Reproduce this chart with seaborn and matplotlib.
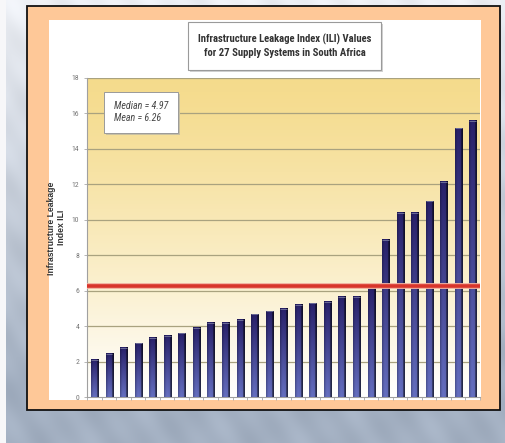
import numpy as np
import pandas as pd
import matplotlib
matplotlib.use("Agg")
import matplotlib.pyplot as plt
from matplotlib.patches import Rectangle
from matplotlib import font_manager
import seaborn as sns

# ILI values for the 27 supply systems, sorted ascending
systems = [str(i) for i in range(1, 28)]
ili = [2.11, 2.45, 2.77, 3.02, 3.34, 3.47, 3.60, 3.90, 4.18, 4.20,
       4.37, 4.66, 4.83, 4.97, 5.20, 5.30, 5.37, 5.67, 5.67, 6.22,
       8.86, 10.40, 10.40, 11.04, 12.14, 15.17, 15.59]
y_ticks = list(range(0, 19, 2))
title_text = "Infrastructure Leakage Index (ILI) Values\nfor 27 Supply Systems in South Africa"
ylabel_lines = ["Infrastructure Leakage", "Index ILI"]

df = pd.DataFrame({"system": systems, "ili": ili})
median_val = float(np.median(ili))
mean_val = float(np.mean(ili))

sns.set_theme(style="white")
plt.rcParams["font.family"] = ["Liberation Sans", "DejaVu Sans"]

# a narrow face for the title, tick labels and the statistics box
names = {f.name for f in font_manager.fontManager.ttflist}
narrow = None
for cand in ["Liberation Sans Narrow", "Roboto Condensed", "Open Sans Condensed",
             "DejaVu Sans Condensed"]:
    if cand in names:
        narrow = cand
        break
if narrow is not None:
    narrow_font = dict(family=[narrow, "DejaVu Sans"])
    title_size, stats_size, tick_size = 7.7, 7.2, 5.6
else:
    narrow_font = dict(family=["Liberation Sans", "DejaVu Sans"])
    title_size, stats_size, tick_size = 6.6, 6.0, 5.0

W, H = 505, 443
fig = plt.figure(figsize=(W / 100, H / 100), dpi=100)

# --- slide-like backdrop: bluish grey gradient with soft mottling ---
bg_ax = fig.add_axes([0, 0, 1, 1], zorder=-10)
yy, xx = np.mgrid[0:1:H * 1j, 0:1:W * 1j]
top = np.array([0.93, 0.94, 0.96])
bot = np.array([0.64, 0.69, 0.76])
t = np.clip(yy * 1.15, 0, 1)[..., None]
mott = (0.018 * np.sin(xx * 37 + yy * 11) * np.cos(yy * 29 - xx * 7)
        + 0.012 * np.sin(xx * 91 - yy * 53))[..., None]
bg = top * (1 - t) + bot * t + mott
bg[:, :6] = [0.97, 0.97, 0.98]
bg_ax.imshow(np.clip(bg, 0, 1), extent=[0, 1, 0, 1], aspect="auto", origin="upper")
bg_ax.set_axis_off()

# orange frame and white panel
fig.patches.append(Rectangle((27 / W, 1 - 410 / H), 473 / W, 404 / H,
                             transform=fig.transFigure, facecolor="#fec898",
                             edgecolor="#111111", linewidth=1.3, zorder=-5))
fig.patches.append(Rectangle((49 / W, 1 - 400 / H), 432 / W, 380 / H,
                             transform=fig.transFigure, facecolor="white",
                             edgecolor="none", zorder=-4))

# title box with a soft shadow
fig.patches.append(Rectangle((190 / W, 1 - 72 / H), 193 / W, 48 / H,
                             transform=fig.transFigure, facecolor="#d2d2d2",
                             edgecolor="none", zorder=-3))
fig.patches.append(Rectangle((188 / W, 1 - 70 / H), 193 / W, 48 / H,
                             transform=fig.transFigure, facecolor="white",
                             edgecolor="#9a9a9a", linewidth=0.8, zorder=-2))
fig.text(284.5 / W, 1 - 46 / H, title_text, ha="center", va="center",
         fontsize=title_size, color="#333333", linespacing=1.45,
         fontweight="bold", **narrow_font)

# --- main axes ---
ax = fig.add_axes([87 / W, 1 - 397 / H, 393 / W, 319 / H])
ax.set_facecolor("none")

sns.barplot(data=df, x="system", y="ili", color="#2a2a78", width=0.45,
            ax=ax, zorder=3, saturation=1)

# plot-area gradient: warm yellow at top fading to white near the base
grad = np.linspace(0, 1, 256)[:, None]
ytop = np.array([0.96, 0.86, 0.55])
ybot = np.array([1.0, 1.0, 1.0])
g = (grad ** 1.25)[..., None]
area = ytop * (1 - g) + ybot * g
ax.imshow(np.repeat(area, 2, axis=1), extent=[-0.5, 26.5, 0, 18],
          aspect="auto", origin="upper", zorder=0)

# shaded bars: navy at the top, bluer toward the base, dark shading on the right
nv, nh = 64, 24
v = np.linspace(0, 1, nv)[:, None, None]
dark = np.array([0.16, 0.13, 0.42])
light = np.array([0.40, 0.44, 0.76])
col = dark * (1 - v) + light * v
hpos = np.linspace(0, 1, nh)
shade = np.where(hpos < 0.15, 0.78, np.where(hpos > 0.80, 0.38, 1.0 - 0.2 * np.abs(hpos - 0.45)))
bar_img = np.clip(col * shade[None, :, None], 0, 1)
for p in list(ax.patches):
    x0, w, h = p.get_x(), p.get_width(), p.get_height()
    p.set_visible(False)
    ax.imshow(bar_img, extent=[x0, x0 + w * 1.12, 0, h], aspect="auto",
              origin="upper", zorder=3, interpolation="bilinear")
    # faint cap on top of each bar
    ax.plot([x0, x0 + w * 1.05], [h, h], color="#6c6c96", linewidth=0.7,
            zorder=3.5, solid_capstyle="butt")

# gridlines
for yv in y_ticks[1:]:
    ax.axhline(yv, color="#a9a27f", linewidth=0.9, zorder=1)

# mean line
ax.axhline(mean_val, color="#f2b0a0", linewidth=4.2, zorder=4)
ax.axhline(mean_val, color="#d8352b", linewidth=2.6, zorder=5)

ax.set_xlim(-0.5, 26.5)
ax.set_ylim(0, 18)
ax.set_yticks(y_ticks)
ax.set_yticklabels([str(v) for v in y_ticks], fontsize=tick_size, color="#777777",
                   **narrow_font)
ax.set_xticks([])
ax.set_xticks(np.arange(-0.5, 27, 1), minor=True)
ax.tick_params(axis="x", which="minor", length=2.5, width=0.6, color="#aaaaaa", bottom=True)
ax.tick_params(axis="y", length=2.5, width=0.6, color="#aaaaaa", left=True, pad=3)
ax.set_xlabel("")
ax.set_ylabel("")
for s in ["top", "right"]:
    ax.spines[s].set_visible(False)
for s in ["left", "bottom"]:
    ax.spines[s].set_color("#a0a0a0")
    ax.spines[s].set_linewidth(0.8)

# y-axis title
fig.text(52 / W, 1 - 228 / H, ylabel_lines[0], rotation=90, ha="center", va="center",
         fontsize=6.2, fontweight="bold", color="#333333",
         family=["Liberation Sans", "DejaVu Sans"])
fig.text(62 / W, 1 - 227 / H, ylabel_lines[1], rotation=90, ha="center", va="center",
         fontsize=6.2, fontweight="bold", color="#333333",
         family=["Liberation Sans", "DejaVu Sans"])

# statistics box
fig.patches.append(Rectangle((106 / W, 1 - 135 / H), 74 / W, 41 / H,
                             transform=fig.transFigure, facecolor="#c9c0a0",
                             edgecolor="none", zorder=6))
fig.patches.append(Rectangle((104 / W, 1 - 133 / H), 74 / W, 41 / H,
                             transform=fig.transFigure, facecolor="white",
                             edgecolor="#9a9a9a", linewidth=0.7, zorder=7))
fig.text(114 / W, 1 - 112 / H, f"Median = {median_val:.2f}\nMean = {mean_val:.2f}",
         ha="left", va="center", fontsize=stats_size, style="italic", color="#444444",
         linespacing=1.3, zorder=8, **narrow_font)

fig.savefig("out.png", dpi=100)
